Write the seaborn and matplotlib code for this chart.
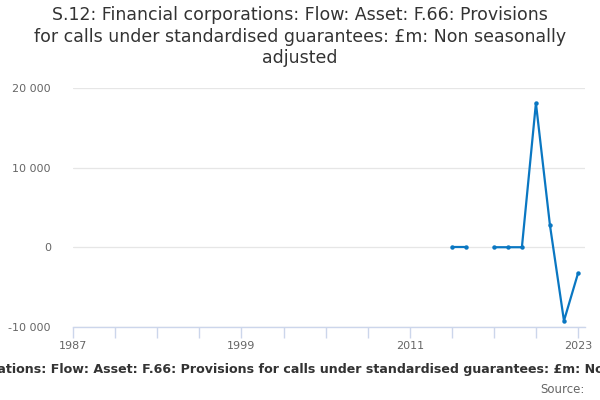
import matplotlib
matplotlib.use("Agg")
import matplotlib.pyplot as plt
import matplotlib.ticker as mticker
import numpy as np
import pandas as pd
import seaborn as sns

# Data (£m, non seasonally adjusted)
years = [2014, 2015, 2016, 2017, 2018, 2019, 2020, 2021, 2022, 2023]
values = [50, 50, np.nan, 30, 30, 30, 18100, 2800, -9200, -3250]

title = ("S.12: Financial corporations: Flow: Asset: F.66: Provisions\n"
         "for calls under standardised guarantees: £m: Non seasonally\n"
         "adjusted")
footer = ("S.12: Financial corporations: Flow: Asset: F.66: Provisions for calls "
          "under standardised guarantees: £m: Non seasonally adjusted")

line_color = "#0a77c2"
grid_color = "#e6e6e6"
axis_color = "#ccd6eb"

df = pd.DataFrame({"year": years, "value": values})
# split into unbroken runs so the gap year leaves a hole in the line
df["segment"] = df["value"].isna().cumsum()
df = df.dropna()

sns.set_theme(style="white")
plt.rcParams["font.family"] = ["DejaVu Sans"]

fig = plt.figure(figsize=(6, 4), dpi=100)
ax = fig.add_axes([0.122, 0.182, 0.853, 0.598])

sns.lineplot(data=df, x="year", y="value", units="segment", estimator=None,
             color=line_color, linewidth=1.6, marker="o", markersize=3.2,
             markeredgewidth=0, ax=ax)

ax.set_xlim(1987, 2023.5)
ax.set_ylim(-10000, 20000)
ax.set_xlabel("")
ax.set_ylabel("")

ax.set_yticks([-10000, 0, 10000, 20000])
ax.yaxis.set_major_formatter(mticker.FuncFormatter(lambda v, _: f"{int(v):,}".replace(",", " ")))
ax.set_xticks([1987, 1999, 2011, 2023])
ax.set_xticks(list(range(1987, 2024, 3)), minor=True)

ax.grid(axis="y", color=grid_color, linewidth=0.9)
ax.set_axisbelow(True)
for side in ["top", "right", "left"]:
    ax.spines[side].set_visible(False)
ax.spines["bottom"].set_color(axis_color)
ax.spines["bottom"].set_linewidth(1)

ax.tick_params(axis="y", length=0, labelsize=8, labelcolor="#666666", pad=16)
ax.tick_params(axis="x", which="both", direction="out", length=8, color=axis_color,
               width=1, labelsize=8, labelcolor="#666666", pad=2, bottom=True)

fig.text(0.5, 0.985, title, ha="center", va="top", fontsize=12.5, color="#333333",
         linespacing=1.25)
fig.text(0.5, 0.077, footer, ha="center", va="center", fontsize=9.1, fontweight="bold",
         color="#333333")
fig.text(0.975, 0.027, "Source:", ha="right", va="center", fontsize=8.5, color="#666666")

fig.savefig("out.png", dpi=100)
